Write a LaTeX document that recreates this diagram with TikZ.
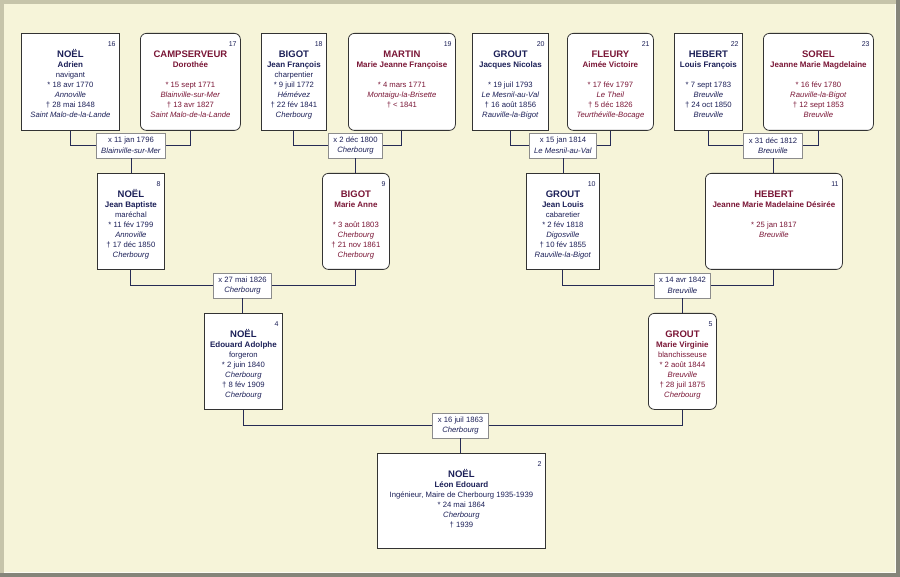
\documentclass[tikz,border=0pt]{standalone}
\usepackage{fontspec}
\setmainfont{Liberation Sans}
\definecolor{navy}{HTML}{1C2058}
\definecolor{maroon}{HTML}{7A1636}
\definecolor{linkc}{HTML}{262B55}
\definecolor{boxline}{HTML}{333333}
\definecolor{marrline}{HTML}{8C8C8C}
\definecolor{cream}{HTML}{F6F4D9}
\definecolor{framedark}{HTML}{85857A}
\definecolor{framelight}{HTML}{C6C4AA}
\newcommand\pcontent[9]{\parbox[c][#2pt][t]{#1pt}{\centering\fontsize{7.7}{10}\selectfont
\rule{0pt}{24pt}{\fontsize{9.5}{10}\selectfont\bfseries #3}\\
{\fontsize{8}{10}\selectfont\bfseries #4}\\
\mbox{}#5\\
\mbox{}#6\\
\mbox{}\textit{#7}\\
\mbox{}#8\\
\mbox{}\textit{#9}\par}}
\tikzset{
  pbox/.style={draw=boxline, fill=white, line width=0.8pt, inner sep=0pt, anchor=north west},
  male/.style={pbox, text=navy},
  female/.style={pbox, text=maroon, rounded corners=6pt},
  marr/.style={draw=marrline, fill=white, line width=0.7pt, inner xsep=5pt, inner ysep=0pt,
    minimum height=25pt, align=center, font=\fontsize{7.7}{10.5}\selectfont, text=navy},
  link/.style={draw=linkc, line width=0.9pt},
  num/.style={font=\fontsize{7}{8}\selectfont, text=navy, anchor=north east, inner sep=0pt}
}
\begin{document}
\begin{tikzpicture}[x=1pt,y=-1pt]
\useasboundingbox (0,0) rectangle (900,577);
\fill[framedark] (0,0) rectangle (900,577);
\fill[framelight] (0,0) rectangle (896,573);
\fill[cream] (4,4) rectangle (896,573);
\draw[white!70!cream, line width=0.6pt] (4.3,572.7) -- (895.7,572.7) -- (895.7,4.3);

% generation 5
\node[male] (n16) at (21,33) {\pcontent{98}{97}{NOËL}{Adrien}{navigant}{* 18 avr 1770}{Annoville}{† 28 mai 1848}{Saint Malo-de-la-Lande}};
\node[female] (n17) at (140,33) {\pcontent{100}{97}{CAMPSERVEUR}{Dorothée}{}{* 15 sept 1771}{Blainville-sur-Mer}{† 13 avr 1827}{Saint Malo-de-la-Lande}};
\node[male] (n18) at (261,33) {\pcontent{65}{97}{BIGOT}{Jean François}{charpentier}{* 9 juil 1772}{Hémévez}{† 22 fév 1841}{Cherbourg}};
\node[female] (n19) at (348,33) {\pcontent{107}{97}{MARTIN}{Marie Jeanne Françoise}{}{* 4 mars 1771}{Montaigu-la-Brisette}{† < 1841}{}};
\node[male] (n20) at (472,33) {\pcontent{76}{97}{GROUT}{Jacques Nicolas}{}{* 19 juil 1793}{Le Mesnil-au-Val}{† 16 août 1856}{Rauville-la-Bigot}};
\node[female] (n21) at (567,33) {\pcontent{86}{97}{FLEURY}{Aimée Victoire}{}{* 17 fév 1797}{Le Theil}{† 5 déc 1826}{Teurthéville-Bocage}};
\node[male] (n22) at (674,33) {\pcontent{68}{97}{HEBERT}{Louis François}{}{* 7 sept 1783}{Breuville}{† 24 oct 1850}{Breuville}};
\node[female] (n23) at (763,33) {\pcontent{110}{97}{SOREL}{Jeanne Marie Magdelaine}{}{* 16 fév 1780}{Rauville-la-Bigot}{† 12 sept 1853}{Breuville}};

% generation 4
\node[male] (n8) at (97,173) {\pcontent{67}{96}{NOËL}{Jean Baptiste}{maréchal}{* 11 fév 1799}{Annoville}{† 17 déc 1850}{Cherbourg}};
\node[female] (n9) at (322,173) {\pcontent{67}{96}{BIGOT}{Marie Anne}{}{* 3 août 1803}{Cherbourg}{† 21 nov 1861}{Cherbourg}};
\node[male] (n10) at (526,173) {\pcontent{73}{96}{GROUT}{Jean Louis}{cabaretier}{* 2 fév 1818}{Digosville}{† 10 fév 1855}{Rauville-la-Bigot}};
\node[female] (n11) at (705,173) {\pcontent{137}{96}{HEBERT}{Jeanne Marie Madelaine Désirée}{}{* 25 jan 1817}{Breuville}{}{}};

% generation 3
\node[male] (n4) at (204,313) {\pcontent{78}{96}{NOËL}{Edouard Adolphe}{forgeron}{* 2 juin 1840}{Cherbourg}{† 8 fév 1909}{Cherbourg}};
\node[female] (n5) at (648,313) {\pcontent{68}{96}{GROUT}{Marie Virginie}{blanchisseuse}{* 2 août 1844}{Breuville}{† 28 juil 1875}{Cherbourg}};

% generation 2
\node[male] (n2) at (377,453) {\pcontent{168}{95}{NOËL}{Léon Edouard}{Ingénieur, Maire de Cherbourg 1935-1939}{* 24 mai 1864}{Cherbourg}{† 1939}{}};

% numbers
\foreach \k in {16,17,18,19,20,21,22,23,8,9,10,11,4,5,2}
  \node[num] (k\k) at ([xshift=-4pt,yshift=-8pt]n\k.north east) {\k};

% marriages
\node[marr] (m1) at (131,145.5) {x 11 jan 1796\\\textit{Blainville-sur-Mer}};
\node[marr] (m2) at (355.5,145.5) {x 2 déc 1800\\\textit{Cherbourg}};
\node[marr] (m3) at (563,145.5) {x 15 jan 1814\\\textit{Le Mesnil-au-Val}};
\node[marr] (m4) at (773,145.5) {x 31 déc 1812\\\textit{Breuville}};
\node[marr] (m5) at (242.5,285.5) {x 27 mai 1826\\\textit{Cherbourg}};
\node[marr] (m6) at (682.5,285.5) {x 14 avr 1842\\\textit{Breuville}};
\node[marr] (m7) at (460.5,425.5) {x 16 juil 1863\\\textit{Cherbourg}};

% connectors
\draw[link] (n16.south) |- (m1.west);
\draw[link] (n17.south) |- (m1.east);
\draw[link] (n18.south) |- (m2.west);
\draw[link] (n19.south) |- (m2.east);
\draw[link] (n20.south) |- (m3.west);
\draw[link] (n21.south) |- (m3.east);
\draw[link] (n22.south) |- (m4.west);
\draw[link] (n23.south) |- (m4.east);
\draw[link] (n8.south) |- (m5.west);
\draw[link] (n9.south) |- (m5.east);
\draw[link] (n10.south) |- (m6.west);
\draw[link] (n11.south) |- (m6.east);
\draw[link] (n4.south) |- (m7.west);
\draw[link] (n5.south) |- (m7.east);
\draw[link] (m1.south) -- (m1.south |- n8.north);
\draw[link] (m2.south) -- (m2.south |- n9.north);
\draw[link] (m3.south) -- (m3.south |- n10.north);
\draw[link] (m4.south) -- (m4.south |- n11.north);
\draw[link] (m5.south) -- (m5.south |- n4.north);
\draw[link] (m6.south) -- (m6.south |- n5.north);
\draw[link] (m7.south) -- (m7.south |- n2.north);
\end{tikzpicture}
\end{document}
